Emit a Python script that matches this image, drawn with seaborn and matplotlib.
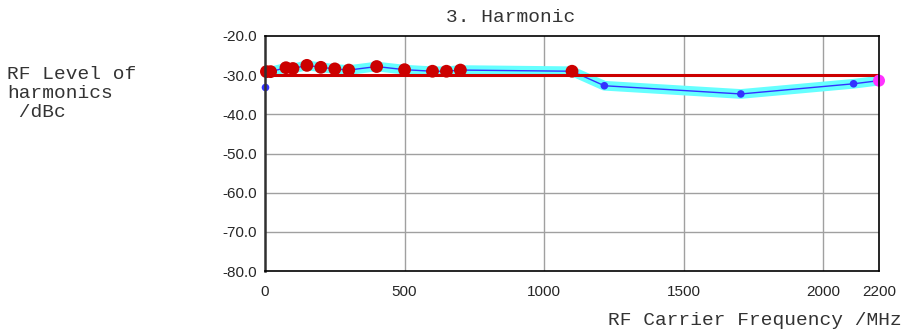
import numpy as np
import pandas as pd
import matplotlib
matplotlib.use("Agg")
from matplotlib import pyplot as plt
import seaborn as sns

# measured 3rd harmonic level (dBc) vs carrier frequency (MHz)
freq_mhz = [5, 20, 75, 100, 150, 200, 250, 300, 400, 500, 600, 650, 700, 1100, 1216, 1705, 2109, 2200]
level_dbc = [-29.1, -29.1, -28.1, -28.3, -27.5, -28.0, -28.4, -28.7, -27.8, -28.6,
             -29.0, -29.0, -28.7, -29.0, -32.7, -34.8, -32.2, -31.4]
# which points get which marker
point_kind = ["fail"] * 14 + ["pass"] * 3 + ["last"]
extra_freq = [0]
extra_level = [-32.9]
limit_dbc = -30.0
x_ticks = [0, 500, 1000, 1500, 2000, 2200]
y_ticks = [-80, -70, -60, -50, -40, -30, -20]

df = pd.DataFrame({"freq": freq_mhz, "level": level_dbc, "kind": point_kind})

sns.set_style("white")
plt.rcParams["axes.unicode_minus"] = False
plt.rcParams["font.family"] = ["Liberation Sans", "DejaVu Sans"]
mono = ["Liberation Mono", "DejaVu Sans Mono"]

fig = plt.figure(figsize=(9.03, 3.32), dpi=100)
ax = fig.add_axes([0.2935, 0.1837, 0.6799, 0.7079])

# cyan band + thin blue trace
sns.lineplot(data=df, x="freq", y="level", color="#66FFFF", lw=7, ax=ax, zorder=2,
             solid_capstyle="butt")
sns.lineplot(data=df, x="freq", y="level", color="#3333FF", lw=1, ax=ax, zorder=3)
ax.axhline(limit_dbc, color="#CC0000", lw=2.2, zorder=4)

colors = {"fail": "#CC0000", "pass": "#3333FF", "last": "#FF33FF"}
sizes = {"fail": 85, "pass": 30, "last": 75}
sns.scatterplot(data=df, x="freq", y="level", hue="kind", size="kind",
                palette=colors, sizes=sizes, linewidth=0, legend=False, ax=ax, zorder=5)
sns.scatterplot(x=extra_freq, y=extra_level, color="#3333FF", s=30, linewidth=0,
                ax=ax, zorder=5)
for c in ax.collections:
    c.set_clip_on(False)

ax.set_xlim(0, 2200)
ax.set_ylim(-80, -20)
ax.set_xticks(x_ticks)
ax.set_xticklabels([str(t) for t in x_ticks])
ax.set_yticks(y_ticks)
ax.set_yticklabels([f"{t:.1f}" for t in y_ticks])
ax.tick_params(axis="both", labelsize=11, length=5, width=1, direction="out", color="#202020")
ax.tick_params(axis="x", pad=5)
ax.tick_params(axis="y", pad=1)
ax.grid(False)
for x in [500, 1000, 1500, 2000]:
    ax.axvline(x, color="#A0A0A0", lw=1, zorder=1)
for y in [-70, -60, -50, -40, -30]:
    ax.axhline(y, color="#A0A0A0", lw=1, zorder=1)
for s in ax.spines.values():
    s.set_color("black")
    s.set_linewidth(1.2)
    s.set_zorder(6)
ax.spines["left"].set_color("#303030")
ax.spines["left"].set_linewidth(1.8)

ax.set_xlabel("")
ax.set_ylabel("")
txt_color = "#333333"
fig.text(0.565, 0.948, "3. Harmonic", family=mono, fontsize=14, ha="center", va="center",
         color=txt_color)
fig.text(0.008, 0.80, "RF Level of\nharmonics\n /dBc", family=mono, fontsize=14,
         ha="left", va="top", linespacing=1.12, color=txt_color)
fig.text(0.999, 0.036, "RF Carrier Frequency /MHz", family=mono, fontsize=14,
         ha="right", va="center", color=txt_color)

fig.savefig("out.png", dpi=100)
